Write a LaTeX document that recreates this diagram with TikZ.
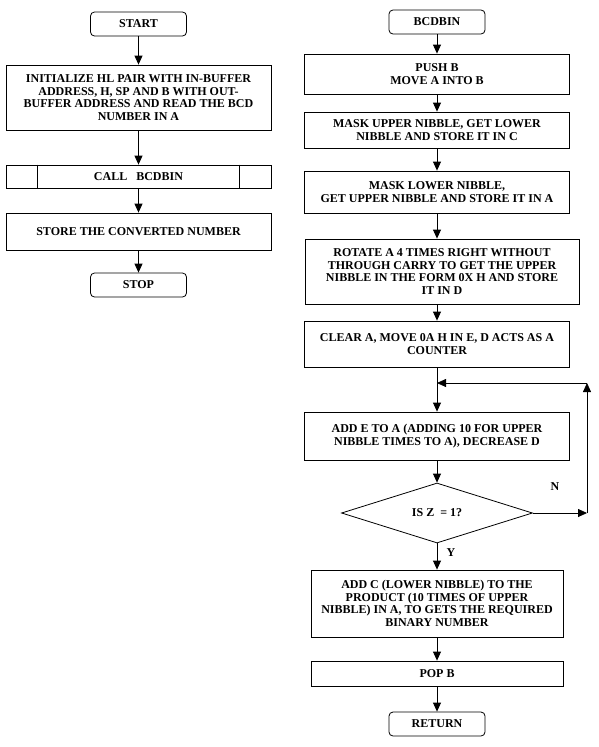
\documentclass[tikz,border=0pt]{standalone}
\usepackage{fontspec}
\setmainfont{Liberation Serif}
\usetikzlibrary{arrows.meta,shapes.geometric}
\begin{document}
\begin{tikzpicture}[>={Triangle[length=9pt,width=8pt]},x=1pt,y=-1pt,line width=0.8pt,
    font=\fontsize{12}{12.6}\selectfont\bfseries,
    term/.style={draw,rounded corners=4pt,minimum width=96pt,minimum height=24pt,inner sep=0pt},
    box/.style={draw,minimum width=265pt,align=center,inner sep=0pt},
    dec/.style={draw,diamond,aspect=3.2,minimum width=191pt,minimum height=60pt,inner sep=0pt}]
    \def\xl{138.5} % left column
    \def\xr{437}   % right column
    \useasboundingbox (0,0) rectangle (598,747);
    % main program
    \node[term] (start) at (\xl,24) {START};
    \node[box,minimum height=65pt] (init) at (\xl,97.5) {INITIALIZE HL PAIR WITH IN-BUFFER\\ADDRESS, H, SP AND B WITH OUT-\\BUFFER ADDRESS AND READ THE BCD\\NUMBER IN A};
    \node[box,minimum height=23pt] (call) at (\xl,176.5) {CALL\ \ \ BCDBIN};
    \node[box,minimum height=37pt] (store) at (\xl,231.5) {STORE THE CONVERTED NUMBER};
    \node[term] (stop) at (\xl,285) {STOP};
    \draw ([xshift=32pt]call.north west) -- ([xshift=32pt]call.south west);
    \draw ([xshift=-32pt]call.north east) -- ([xshift=-32pt]call.south east);
    \draw[->] (start) -- (init);
    \draw[->] (init) -- (call);
    \draw[->] (call) -- (store);
    \draw[->] (store) -- (stop);
    % subroutine
    \node[term] (bcdbin) at (\xr,22) {BCDBIN};
    \node[box,minimum height=40pt] (push) at (\xr,74) {PUSH B\\MOVE A INTO B};
    \node[box,minimum height=36pt] (maskup) at (\xr,130) {MASK UPPER NIBBLE, GET LOWER\\NIBBLE AND STORE IT IN C};
    \node[box,minimum height=42pt] (masklow) at (\xr,192) {MASK LOWER NIBBLE,\\GET UPPER NIBBLE AND STORE IT IN A};
    \node[box,minimum width=274pt,minimum height=65pt] (rotate) at (442,271.5) {ROTATE A 4 TIMES RIGHT WITHOUT\\THROUGH CARRY TO GET THE UPPER\\NIBBLE IN THE FORM 0X H AND STORE\\IT IN D};
    \node[box,minimum height=46pt] (clear) at (\xr,344) {CLEAR A, MOVE 0A H IN E, D ACTS AS A\\COUNTER};
    \node[box,minimum height=48pt] (adde) at (\xr,436) {ADD E TO A (ADDING 10 FOR UPPER\\NIBBLE TIMES TO A), DECREASE D};
    \node[dec] (isz) at (\xr,513) {IS Z\ \ = 1?};
    \node[box,minimum width=252pt,minimum height=67pt] (addc) at (\xr,603.5) {ADD C (LOWER NIBBLE) TO THE\\PRODUCT (10 TIMES OF UPPER\\NIBBLE) IN A, TO GETS THE REQUIRED\\BINARY NUMBER};
    \node[box,minimum width=252pt,minimum height=25pt] (pop) at (\xr,673.5) {POP B};
    \node[term] (return) at (\xr,724) {RETURN};
    \node (nlab) at (555,487) {N};
    \node (ylab) at (451,553) {Y};
    \coordinate (loopj) at (\xr,383);
    \coordinate (loopt) at (587,383);
    \coordinate (loopb) at (587,513);
    \draw[->] (bcdbin) -- (push);
    \draw[->] (push) -- (maskup);
    \draw[->] (maskup) -- (masklow);
    \draw[->] (masklow.south) -- (masklow.south|-rotate.north);
    \draw[->] (rotate.south-|clear.north) -- (clear);
    \draw[->] (clear) -- (adde);
    \draw[->] (adde) -- (isz);
    \draw[->] (isz) -- (addc);
    \draw[->] (addc) -- (pop);
    \draw[->] (pop) -- (return);
    \draw[->] (isz.east) -- (loopb);
    \draw[->] (loopb) -- (loopt);
    \draw[->] (loopt) -- (loopj);
\end{tikzpicture}
\end{document}
